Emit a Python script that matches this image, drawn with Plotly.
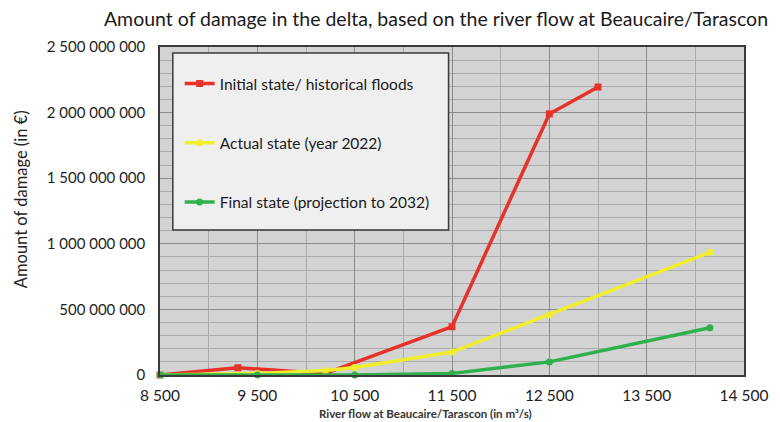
import plotly.graph_objects as go

# River flow at Beaucaire/Tarascon (m3/s) and flood damage (EUR) for each scenario
initial_flow = [8500, 9300, 10200, 11500, 12500, 13000]
initial_damage = [0, 55_000_000, 12_000_000, 368_000_000, 1_990_000_000, 2_195_000_000]

actual_flow = [8500, 9500, 10200, 10500, 11500, 12500, 14150]
actual_damage = [0, 12_000_000, 35_000_000, 58_000_000, 175_000_000, 460_000_000, 935_000_000]

final_flow = [8500, 9500, 10500, 11500, 12500, 14150]
final_damage = [0, 0, 0, 12_000_000, 100_000_000, 360_000_000]

series_names = [
    "Initial state/ historical floods",
    "Actual state (year 2022)",
    "Final state (projection to 2032)",
]

x_ticks = [8500, 9500, 10500, 11500, 12500, 13500, 14500]
y_ticks = [0, 500_000_000, 1_000_000_000, 1_500_000_000, 2_000_000_000, 2_500_000_000]

FONT = "Lato"
RED = "#e5322b"
YELLOW = "#eeee2e"
GREEN = "#30b04c"

fig = go.Figure()

def add_series(x, y, name, color, symbol, group):
    fig.add_trace(go.Scatter(
        x=x, y=y, name=name, mode="lines+markers",
        line=dict(color=color, width=3.5),
        marker=dict(color=color, size=7, symbol=symbol),
        cliponaxis=False, legendgroup=group,
    ))

add_series(initial_flow, initial_damage, series_names[0], RED, "square", "a")
add_series(actual_flow, actual_damage, series_names[1], YELLOW, "circle", "b")
add_series(final_flow, final_damage, series_names[2], GREEN, "circle", "c")

W, H = 780, 422
L, R, T, B = 160, 27, 47, 47

def px_x(p):
    return (p - L) / (W - L - R)

def px_y(p):
    return 1 - (p - T) / (H - T - B)

# legend frame drawn as a shape so it can be wider than its entries
fig.add_shape(
    type="rect", xref="paper", yref="paper",
    x0=px_x(173), x1=px_x(453), y0=px_y(230), y1=px_y(53),
    fillcolor="#efefef", line=dict(color="#3a3a3a", width=1.5), layer="above",
)

fig.update_layout(
    width=W, height=H,
    margin=dict(l=L, r=R, t=T, b=B),
    paper_bgcolor="white",
    plot_bgcolor="#d3d3d3",
    separators=". ",
    font=dict(family=FONT, color="#222222"),
    title=dict(
        text="Amount of damage in the delta, based on the river flow at Beaucaire/Tarascon",
        x=436 / W, xanchor="center", xref="container",
        y=1 - 19 / H, yanchor="middle", yref="container",
        font=dict(family=FONT, size=19.5, color="#1a1a1a"),
    ),
    showlegend=True,
    legend=dict(
        x=px_x(180), y=px_y(67), xanchor="left", yanchor="top",
        bgcolor="rgba(0,0,0,0)", borderwidth=0,
        font=dict(family=FONT, size=15.5, color="#1a1a1a"),
        itemwidth=30, tracegroupgap=36,
    ),
    xaxis=dict(
        range=[8500, 14500], tickvals=x_ticks, tickformat=",d",
        showgrid=True, gridcolor="#8c8c8c", gridwidth=1,
        minor=dict(dtick=500, tick0=8500, showgrid=True, gridcolor="#ababab", gridwidth=1),
        showline=True, linecolor="#3a3a3a", linewidth=1.5, mirror=True,
        ticks="", zeroline=False, ticklabelstandoff=6,
        tickfont=dict(family=FONT, size=15.5, color="#222222"),
    ),
    yaxis=dict(
        range=[0, 2_500_000_000], tickvals=y_ticks, tickformat=",d",
        showgrid=True, gridcolor="#8c8c8c", gridwidth=1,
        minor=dict(dtick=100_000_000, tick0=0, showgrid=True, gridcolor="#ababab", gridwidth=1),
        showline=True, linecolor="#3a3a3a", linewidth=1.5, mirror=True,
        ticks="", zeroline=False, ticklabelstandoff=10,
        tickfont=dict(family=FONT, size=15, color="#1e1e1e"),
    ),
    annotations=[
        dict(
            text="Amount of damage (in €)", textangle=-90,
            xref="paper", yref="paper", x=px_x(19), y=px_y(199),
            xanchor="center", yanchor="middle", showarrow=False,
            font=dict(family=FONT, size=16.5, color="#222222"),
        ),
        dict(
            text="<b>River flow at Beaucaire/Tarascon (in m³/s)</b>",
            xref="paper", yref="paper", x=px_x(430), y=px_y(413),
            xanchor="center", yanchor="middle", showarrow=False,
            font=dict(family=FONT, size=11.5, color="#333333"),
        ),
    ],
)

fig.write_html("out.html")
